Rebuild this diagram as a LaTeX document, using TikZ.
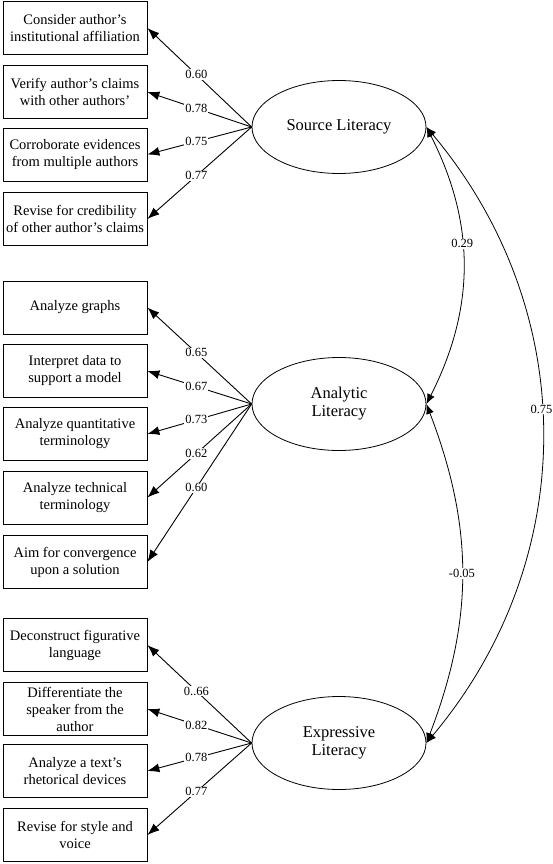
\documentclass[tikz,border=0pt]{standalone}
\usepackage{fontspec}
\setmainfont{Liberation Serif}
\usetikzlibrary{arrows.meta,shapes.geometric}
\begin{document}
\begin{tikzpicture}[x=1pt,y=-1pt,
  obs/.style={draw, line width=0.8pt, minimum width=144pt, minimum height=53pt, inner sep=0pt, align=center, font=\fontsize{14.5}{17}\selectfont},
  lat/.style={draw, ellipse, line width=0.8pt, minimum width=174pt, minimum height=93pt, inner sep=0pt, align=center, font=\fontsize{16.5}{18}\selectfont},
  load/.style={line width=0.9pt, -{Latex[length=12pt,width=9pt]}},
  cov/.style={line width=0.8pt, {Latex[length=10pt,width=8pt]}-{Latex[length=10pt,width=8pt]}},
  lab/.style={fill=white, inner sep=1pt, font=\fontsize{12.5}{13}\selectfont},
]
\useasboundingbox (0,0) rectangle (553,864);
% latent variables
\node[lat] (S) at (339,127) {Source Literacy};
\node[lat] (A) at (339,404) {Analytic\\Literacy};
\node[lat] (E) at (339,743) {Expressive\\Literacy};
% source indicators
\node[obs] (s1) at (75,28) {Consider author's\\institutional affiliation};
\node[obs] (s2) at (75,92) {Verify author's claims\\with other authors'};
\node[obs] (s3) at (75,154.5) {Corroborate evidences\\from multiple authors};
\node[obs] (s4) at (75,219) {Revise for credibility\\of other author's claims};
% analytic indicators
\node[obs] (a1) at (75,307.5) {Analyze graphs};
\node[obs] (a2) at (75,371) {Interpret data to\\support a model};
\node[obs] (a3) at (75,434) {Analyze quantitative\\terminology};
\node[obs] (a4) at (75,497.5) {Analyze technical\\terminology};
\node[obs] (a5) at (75,562) {Aim for convergence\\upon a solution};
% expressive indicators
\node[obs] (e1) at (75,645) {Deconstruct figurative\\language};
\node[obs] (e2) at (75,709) {Differentiate the\\speaker from the\\author};
\node[obs] (e3) at (75,771) {Analyze a text's\\rhetorical devices};
\node[obs] (e4) at (75,835) {Revise for style and\\voice};
% loadings
\draw[load] (S.west) -- node[lab,pos=0.53]{0.60} (s1.east);
\draw[load] (S.west) -- node[lab,pos=0.53]{0.78} (s2.east);
\draw[load] (S.west) -- node[lab,pos=0.53]{0.75} (s3.east);
\draw[load] (S.west) -- node[lab,pos=0.53]{0.77} (s4.east);
\draw[load] (A.west) -- node[lab,pos=0.53]{0.65} (a1.east);
\draw[load] (A.west) -- node[lab,pos=0.53]{0.67} (a2.east);
\draw[load] (A.west) -- node[lab,pos=0.53]{0.73} (a3.east);
\draw[load] (A.west) -- node[lab,pos=0.53]{0.62} (a4.east);
\draw[load] (A.west) -- node[lab,pos=0.53]{0.60} (a5.east);
\draw[load] (E.west) -- node[lab,pos=0.53]{0..66} (e1.east);
\draw[load] (E.west) -- node[lab,pos=0.53]{0.82} (e2.east);
\draw[load] (E.west) -- node[lab,pos=0.53]{0.78} (e3.east);
\draw[load] (E.west) -- node[lab,pos=0.53]{0.77} (e4.east);
% covariances
\draw[cov] (S.east) to[bend left=27] node[lab,pos=0.42]{0.29} (A.east);
\draw[cov] (A.east) to[bend left=21] node[lab,pos=0.5]{-0.05} (E.east);
\draw[cov] (S.east) to[bend left=40] node[lab,pos=0.46]{0.75} (E.east);
\end{tikzpicture}
\end{document}
